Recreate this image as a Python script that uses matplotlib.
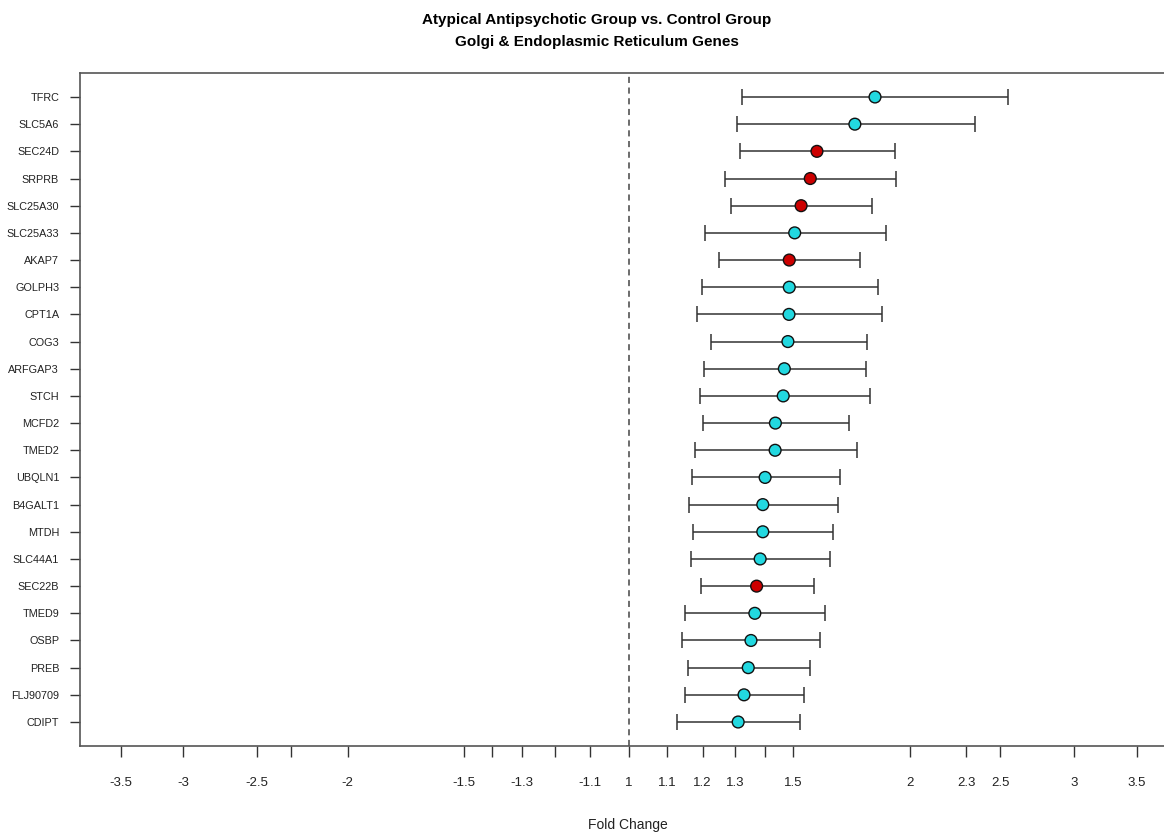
import numpy as np
import matplotlib
matplotlib.use("Agg")
import matplotlib.pyplot as plt

plt.rcParams['font.family'] = ['Liberation Sans', 'DejaVu Sans']

# genes listed top to bottom
genes = ['TFRC', 'SLC5A6', 'SEC24D', 'SRPRB', 'SLC25A30', 'SLC25A33', 'AKAP7',
         'GOLPH3', 'CPT1A', 'COG3', 'ARFGAP3', 'STCH', 'MCFD2', 'TMED2',
         'UBQLN1', 'B4GALT1', 'MTDH', 'SLC44A1', 'SEC22B', 'TMED9', 'OSBP',
         'PREB', 'FLJ90709', 'CDIPT']
fold_change = [1.836, 1.747, 1.591, 1.565, 1.530, 1.506, 1.486,
               1.486, 1.485, 1.481, 1.468, 1.464, 1.436, 1.435,
               1.400, 1.392, 1.392, 1.383, 1.371, 1.365, 1.352,
               1.343, 1.329, 1.310]
ci_low = [1.323, 1.305, 1.316, 1.268, 1.287, 1.208, 1.250,
          1.198, 1.184, 1.224, 1.205, 1.191, 1.201, 1.178,
          1.168, 1.161, 1.171, 1.165, 1.195, 1.148, 1.141,
          1.158, 1.148, 1.126]
ci_high = [2.551, 2.348, 1.929, 1.933, 1.822, 1.887, 1.771,
           1.848, 1.868, 1.801, 1.796, 1.812, 1.722, 1.756,
           1.683, 1.677, 1.654, 1.644, 1.579, 1.624, 1.603,
           1.563, 1.540, 1.527]
# highlighted (red) genes
highlight = ['SEC24D', 'SRPRB', 'SLC25A30', 'AKAP7', 'SEC22B']

tick_values = [-3.5, -3, -2.5, -2.3, -2, -1.5, -1.4, -1.3, -1.2, -1.1,
               1, 1.1, 1.2, 1.3, 1.4, 1.5, 2, 2.3, 2.5, 3, 3.5]
unlabeled = [-2.3, -1.4, -1.2, 1.4]


def fc_axis(v):
    # signed log2 fold-change scale: -x mirrors x
    v = np.asarray(v, dtype=float)
    return np.sign(v) * np.log2(np.abs(v))


fig = plt.figure(figsize=(11.64, 8.32), dpi=100)
W, H = 1164, 832
left, right, top, bottom = 80, 1166, 73, 746
ax = fig.add_axes([left / W, 1 - bottom / H, (right - left) / W, (bottom - top) / H])

n = len(genes)
y = np.arange(n, 0, -1)
x = fc_axis(fold_change)
lo = fc_axis(ci_low)
hi = fc_axis(ci_high)

ax.axvline(0, color='#444444', linestyle=(0, (4, 3)), linewidth=1.1, zorder=1)

ax.errorbar(x, y, xerr=[x - lo, hi - x], fmt='none', ecolor='#333333',
            elinewidth=1.1, capsize=6, capthick=1.1, zorder=2)
colors = ['#cc0000' if g in highlight else '#22d8e0' for g in genes]
ax.scatter(x, y, s=72, c=colors, edgecolors='#111111', linewidths=1.0, zorder=3)

ax.set_xlim((left - 628.7) / 281, (right - 628.7) / 281)
ax.set_ylim(0.117, n + 0.883)

ax.set_yticks(y)
ax.set_yticklabels(genes, fontsize=7.8, color='#222222')
ax.set_xticks(fc_axis(tick_values))
ax.set_xticklabels(['' if t in unlabeled else ('%g' % t) for t in tick_values],
                   fontsize=9.5, color='#222222')
ax.tick_params(axis='x', length=8, width=1, color='#333333', pad=14)
ax.tick_params(axis='y', length=7, width=1, color='#333333', pad=8)

for s in ax.spines.values():
    s.set_color('#555555')
    s.set_linewidth(1.2)

fig.text(597 / W, 1 - 20 / H, 'Atypical Antipsychotic Group vs. Control Group',
         ha='center', va='center', fontsize=11, fontweight='bold')
fig.text(597 / W, 1 - 42 / H, 'Golgi & Endoplasmic Reticulum Genes',
         ha='center', va='center', fontsize=11, fontweight='bold')
fig.text(628 / W, 1 - 825 / H, 'Fold Change', ha='center', va='center',
         fontsize=10, color='#222222')

fig.savefig('out.png', dpi=100)
